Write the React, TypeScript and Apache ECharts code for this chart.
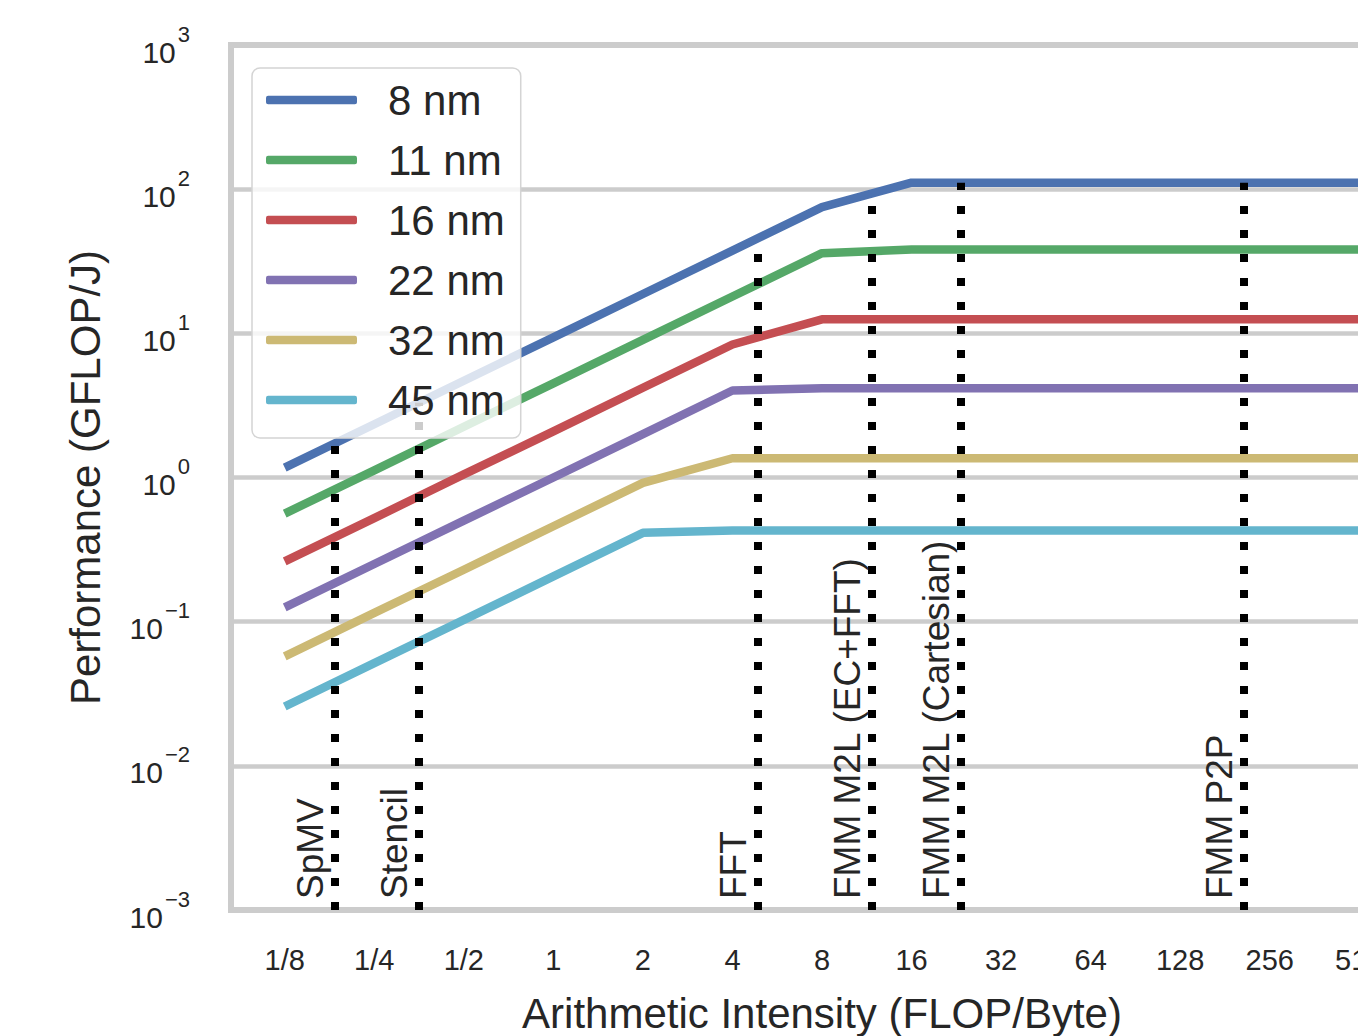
import React, { useEffect, useRef } from "react";
import * as echarts from "echarts";

// ---- data ----
const intensity = [0.125, 0.25, 0.5, 1, 2, 4, 8, 16, 32, 64, 128, 256, 512];
const xTickValues = [0.125, 0.25, 0.5, 1, 2, 4, 8, 16, 32, 64, 128, 256, 512];
const xTickLabels = ["1/8", "1/4", "1/2", "1", "2", "4", "8", "16", "32", "64", "128", "256", "512"];

const seriesNames = ["8 nm", "11 nm", "16 nm", "22 nm", "32 nm", "45 nm"];
const perf8nm = [1.17, 2.34, 4.69, 9.38, 18.75, 37.5, 75, 111, 111, 111, 111, 111, 111];
const perf11nm = [0.562, 1.12, 2.25, 4.5, 9.0, 18.0, 36.0, 38.1, 38.1, 38.1, 38.1, 38.1, 38.1];
const perf16nm = [0.262, 0.523, 1.05, 2.09, 4.19, 8.37, 12.5, 12.5, 12.5, 12.5, 12.5, 12.5, 12.5];
const perf22nm = [0.1255, 0.251, 0.502, 1.0, 2.0, 4.01, 4.16, 4.16, 4.16, 4.16, 4.16, 4.16, 4.16];
const perf32nm = [0.0574, 0.115, 0.229, 0.459, 0.917, 1.36, 1.36, 1.36, 1.36, 1.36, 1.36, 1.36, 1.36];
const perf45nm = [0.0258, 0.0516, 0.103, 0.206, 0.413, 0.429, 0.429, 0.429, 0.429, 0.429, 0.429, 0.429, 0.429];
const seriesColors = ["#4C72B0", "#55A868", "#C44E52", "#8172B2", "#CCB974", "#64B5CD"];

const kernelNames = ["SpMV", "Stencil", "FFT", "FMM M2L (EC+FFT)", "FMM M2L (Cartesian)", "FMM P2P"];
const kernelIntensity = [0.184, 0.353, 4.87, 11.8, 23.5, 210];
const kernelTop = [1.72, 3.3, 45.7, 93, 111, 111];

const FONT = "'Liberation Sans', Arial, Helvetica, sans-serif";
const TEXT = "#262626";

export default function App() {
  const ref = useRef<HTMLDivElement>(null);

  useEffect(() => {
    if (!ref.current) return;
    const chart = echarts.init(ref.current, undefined, { renderer: "svg" });
    const perfs = [perf8nm, perf11nm, perf16nm, perf22nm, perf32nm, perf45nm];

    const lineSeries = seriesNames.map((name, i) => ({
      name,
      type: "line",
      data: intensity.map((x, j) => [x, perfs[i][j]]),
      showSymbol: false,
      symbol: "none",
      z: 4,
      itemStyle: { color: seriesColors[i] },
      lineStyle: { color: seriesColors[i], width: 8.5, cap: "butt", join: "round" },
    }));

    const kernelSeries = {
      name: "kernels",
      type: "line",
      data: [],
      z: 3,
      markLine: {
        silent: true,
        symbol: ["none", "none"],
        lineStyle: { color: "#000000", width: 8, type: [8, 16], cap: "butt" },
        label: {
          show: true,
          position: "insideStartTop",
          formatter: "{b}",
          fontSize: 37,
          fontFamily: FONT,
          color: TEXT,
          distance: [11, 6],
        },
        emphasis: { disabled: true },
        data: kernelNames.map((n, i) => [
          { name: n, coord: [kernelIntensity[i], 0.001] },
          { coord: [kernelIntensity[i], kernelTop[i]] },
        ]),
      },
    };

    chart.setOption({
      animation: false,
      textStyle: { fontFamily: FONT },
      grid: {
        left: 231,
        top: 45,
        width: 1182,
        height: 865,
        show: true,
        borderColor: "#cccccc",
        borderWidth: 6,
        backgroundColor: "transparent",
        outerBoundsMode: "none",
        containLabel: false,
      },
      legend: {
        data: seriesNames,
        orient: "vertical",
        left: 252,
        top: 68,
        icon: "roundRect",
        itemWidth: 91,
        itemHeight: 8.5,
        itemGap: 18,
        padding: [11, 16, 17, 14],
        backgroundColor: "rgba(255,255,255,0.8)",
        borderColor: "#d4d4d4",
        borderWidth: 1.5,
        borderRadius: 8,
        z: 10,
        textStyle: {
          fontSize: 42,
          lineHeight: 42,
          color: TEXT,
          fontFamily: FONT,
          padding: [0, 0, 0, 26],
        },
      },
      xAxis: {
        type: "log",
        logBase: 2,
        min: Math.pow(2, -3.6),
        max: Math.pow(2, 9.6),
        name: "Arithmetic Intensity (FLOP/Byte)",
        nameLocation: "middle",
        nameGap: 82,
        nameTextStyle: { fontSize: 42, lineHeight: 42, color: TEXT, fontFamily: FONT },
        axisLine: { show: false },
        axisTick: { show: false },
        splitLine: { show: false },
        axisLabel: {
          customValues: xTickValues,
          fontSize: 29,
          color: TEXT,
          fontFamily: FONT,
          margin: 35,
          formatter: (v: number) => {
            let best = 0;
            let d = Infinity;
            xTickValues.forEach((t, k) => {
              const e = Math.abs(Math.log2(t) - Math.log2(v));
              if (e < d) { d = e; best = k; }
            });
            return xTickLabels[best];
          },
        },
      },
      yAxis: {
        type: "log",
        logBase: 10,
        min: 0.001,
        max: 1000,
        name: "Performance (GFLOP/J)",
        nameLocation: "middle",
        nameGap: 125,
        nameTextStyle: { fontSize: 42, color: TEXT, fontFamily: FONT },
        axisLine: { show: false },
        axisTick: { show: false },
        splitLine: { show: true, lineStyle: { color: "#cccccc", width: 4.5 } },
        axisLabel: {
          margin: 41,
          formatter: (v: number) => {
            const e = Math.round(Math.log10(v));
            const s = e < 0 ? "\u2212" + -e : String(e);
            return "{b|10}{s|" + s + "}";
          },
          rich: {
            b: { fontSize: 30, color: TEXT, fontFamily: FONT, padding: [14, 0, 0, 0] },
            s: { fontSize: 22, color: TEXT, fontFamily: FONT, padding: [0, 0, 22, 2] },
          },
        },
      },
      series: [kernelSeries, ...lineSeries],
    });
    return () => chart.dispose();
  }, []);

  return (
    <div
      style={{
        position: "fixed",
        left: 0,
        top: 0,
        width: 1358,
        height: 1036,
        overflow: "hidden",
        background: "#ffffff",
      }}
    >
      <div ref={ref} style={{ width: 1460, height: 1100 }} />
    </div>
  );
}
